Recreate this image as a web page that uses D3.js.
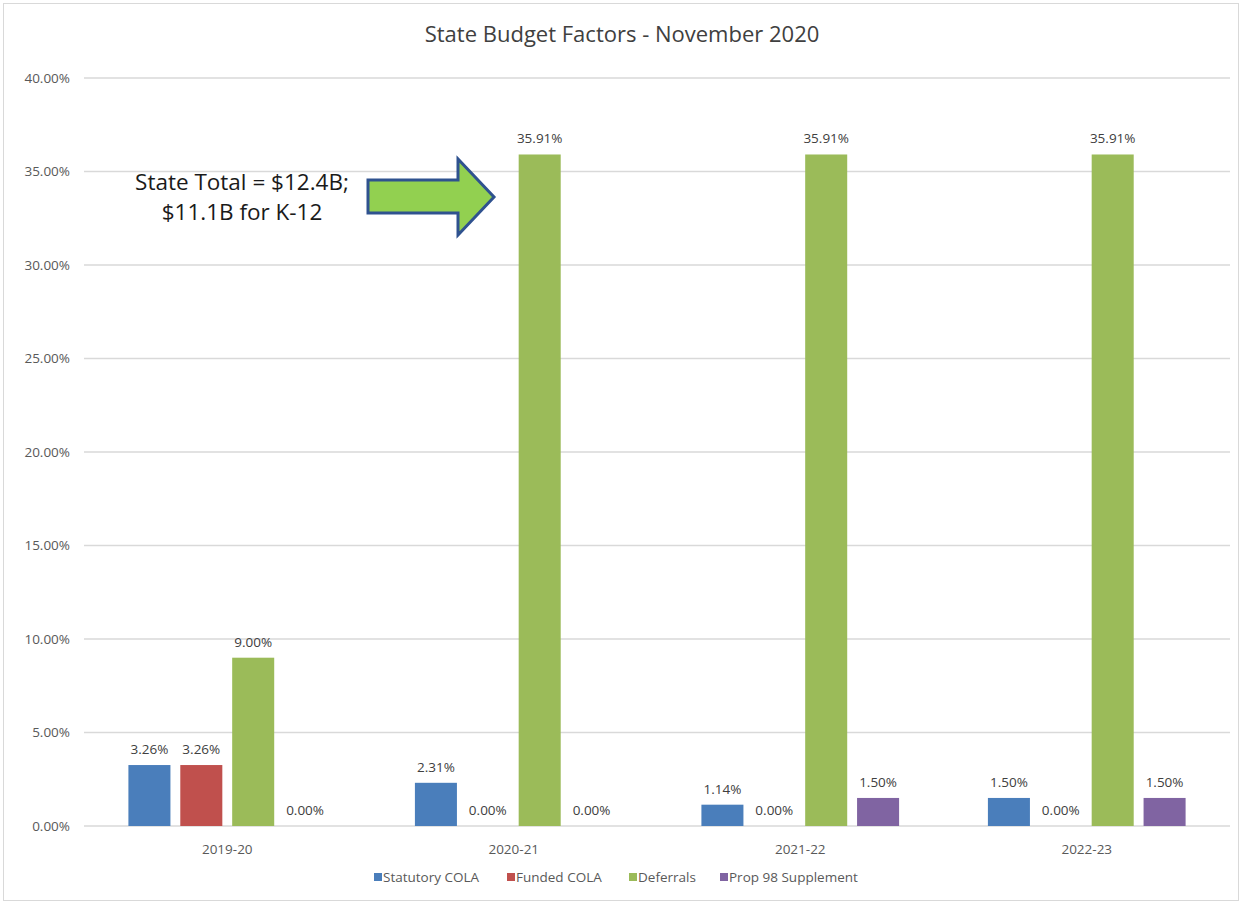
<!DOCTYPE html>
<html>
<head>
<meta charset="utf-8">
<script src="https://cdn.jsdelivr.net/npm/d3@7/dist/d3.min.js"></script>
<style>
  html, body { margin: 0; padding: 0; background: #fff; }
  svg text { font-family: "Open Sans", "Noto Sans", sans-serif; }
</style>
</head>
<body>
<svg id="chart" width="1242" height="902"></svg>
<script>
const years = ['2019-20', '2020-21', '2021-22', '2022-23'];
const seriesNames = ['Statutory COLA', 'Funded COLA', 'Deferrals', 'Prop 98 Supplement'];
const statutoryCola = [3.26, 2.31, 1.14, 1.50];
const fundedCola = [3.26, 0.00, 0.00, 0.00];
const deferrals = [9.00, 35.91, 35.91, 35.91];
const prop98 = [0.00, 0.00, 1.50, 1.50];
const yTicks = [0, 5, 10, 15, 20, 25, 30, 35, 40];
const seriesColors = ['#4a7ebb', '#c0504d', '#9bbb59', '#8064a2'];

const seriesVals = [statutoryCola, fundedCola, deferrals, prop98];
const W = 1242, H = 902;
const m = { left: 84, right: 12, top: 78, bottom: 76 };

const svg = d3.select('#chart');

// chart frame
svg.append('rect').attr('x', 3.5).attr('y', 3.5).attr('width', W - 7).attr('height', H - 5)
  .attr('fill', '#fff').attr('stroke', '#d9d9d9');

const x0 = d3.scaleBand().domain(years).range([m.left, W - m.right]).paddingInner(0.31).paddingOuter(0.155);
const x1 = d3.scaleBand().domain(seriesNames).range([0, x0.bandwidth()]).paddingInner(0.19);
const y = d3.scaleLinear().domain([0, 40]).range([H - m.bottom, m.top]);

// gridlines
svg.append('g').selectAll('line').data(yTicks).join('line')
  .attr('x1', m.left).attr('x2', W - m.right)
  .attr('y1', d => y(d)).attr('y2', d => y(d))
  .attr('stroke', '#d9d9d9').attr('stroke-width', 1.3);

// y axis labels
const yAxis = svg.append('g').attr('transform', `translate(${m.left - 14},0)`)
  .call(d3.axisLeft(y).tickValues(yTicks).tickSize(0).tickPadding(0).tickFormat(d => d.toFixed(2) + '%'));
yAxis.select('.domain').remove();
yAxis.selectAll('text').attr('fill', '#595959').style('font-size', '13.5px');

// x axis labels
const xAxis = svg.append('g').attr('transform', `translate(0,${y(0)})`)
  .call(d3.axisBottom(x0).tickSize(0).tickPadding(18));
xAxis.select('.domain').remove();
xAxis.selectAll('text').attr('fill', '#595959').style('font-size', '13.5px');

// bars
const rows = years.map((yr, i) => ({ yr, vals: seriesNames.map((s, j) => ({ s, j, v: seriesVals[j][i] })) }));
const grp = svg.append('g').selectAll('g').data(rows).join('g')
  .attr('transform', d => `translate(${x0(d.yr)},0)`);

grp.selectAll('rect').data(d => d.vals).join('rect')
  .attr('x', d => x1(d.s)).attr('width', x1.bandwidth())
  .attr('y', d => y(d.v)).attr('height', d => y(0) - y(d.v))
  .attr('fill', d => seriesColors[d.j]);

grp.selectAll('text').data(d => d.vals).join('text')
  .attr('x', d => x1(d.s) + x1.bandwidth() / 2)
  .attr('y', d => y(d.v) - 11)
  .attr('text-anchor', 'middle')
  .attr('fill', '#404040').style('font-size', '13.5px')
  .text(d => d.v.toFixed(2) + '%');

// title
svg.append('text').attr('x', 622).attr('y', 42).attr('text-anchor', 'middle')
  .attr('fill', '#404040').style('font-size', '22px').text('State Budget Factors - November 2020');

// legend
const legend = svg.append('g').attr('transform', 'translate(0,877)');
const legendX = [374, 507, 629, 720];
seriesNames.forEach((s, j) => {
  const g = legend.append('g').attr('transform', `translate(${legendX[j]},0)`);
  g.append('rect').attr('x', 0).attr('y', -4).attr('width', 8).attr('height', 8).attr('fill', seriesColors[j]);
  g.append('text').attr('x', 9).attr('y', 5).attr('fill', '#595959').style('font-size', '13.5px').text(s);
});

// annotation arrow
const arrow = [[368, 180], [458, 180], [458, 159], [494, 197], [458, 235], [458, 213], [368, 213]];
svg.append('path').attr('d', d3.line()(arrow) + 'Z')
  .attr('fill', '#92d050').attr('stroke', '#2f528f').attr('stroke-width', 3).attr('stroke-linejoin', 'miter');

const note = svg.append('text').attr('text-anchor', 'middle').attr('fill', '#1a1a1a').style('font-size', '22.5px');
note.append('tspan').attr('x', 242).attr('y', 190).text('State Total = $12.4B;');
note.append('tspan').attr('x', 242).attr('y', 220).text('$11.1B for K-12');
</script>
</body>
</html>
